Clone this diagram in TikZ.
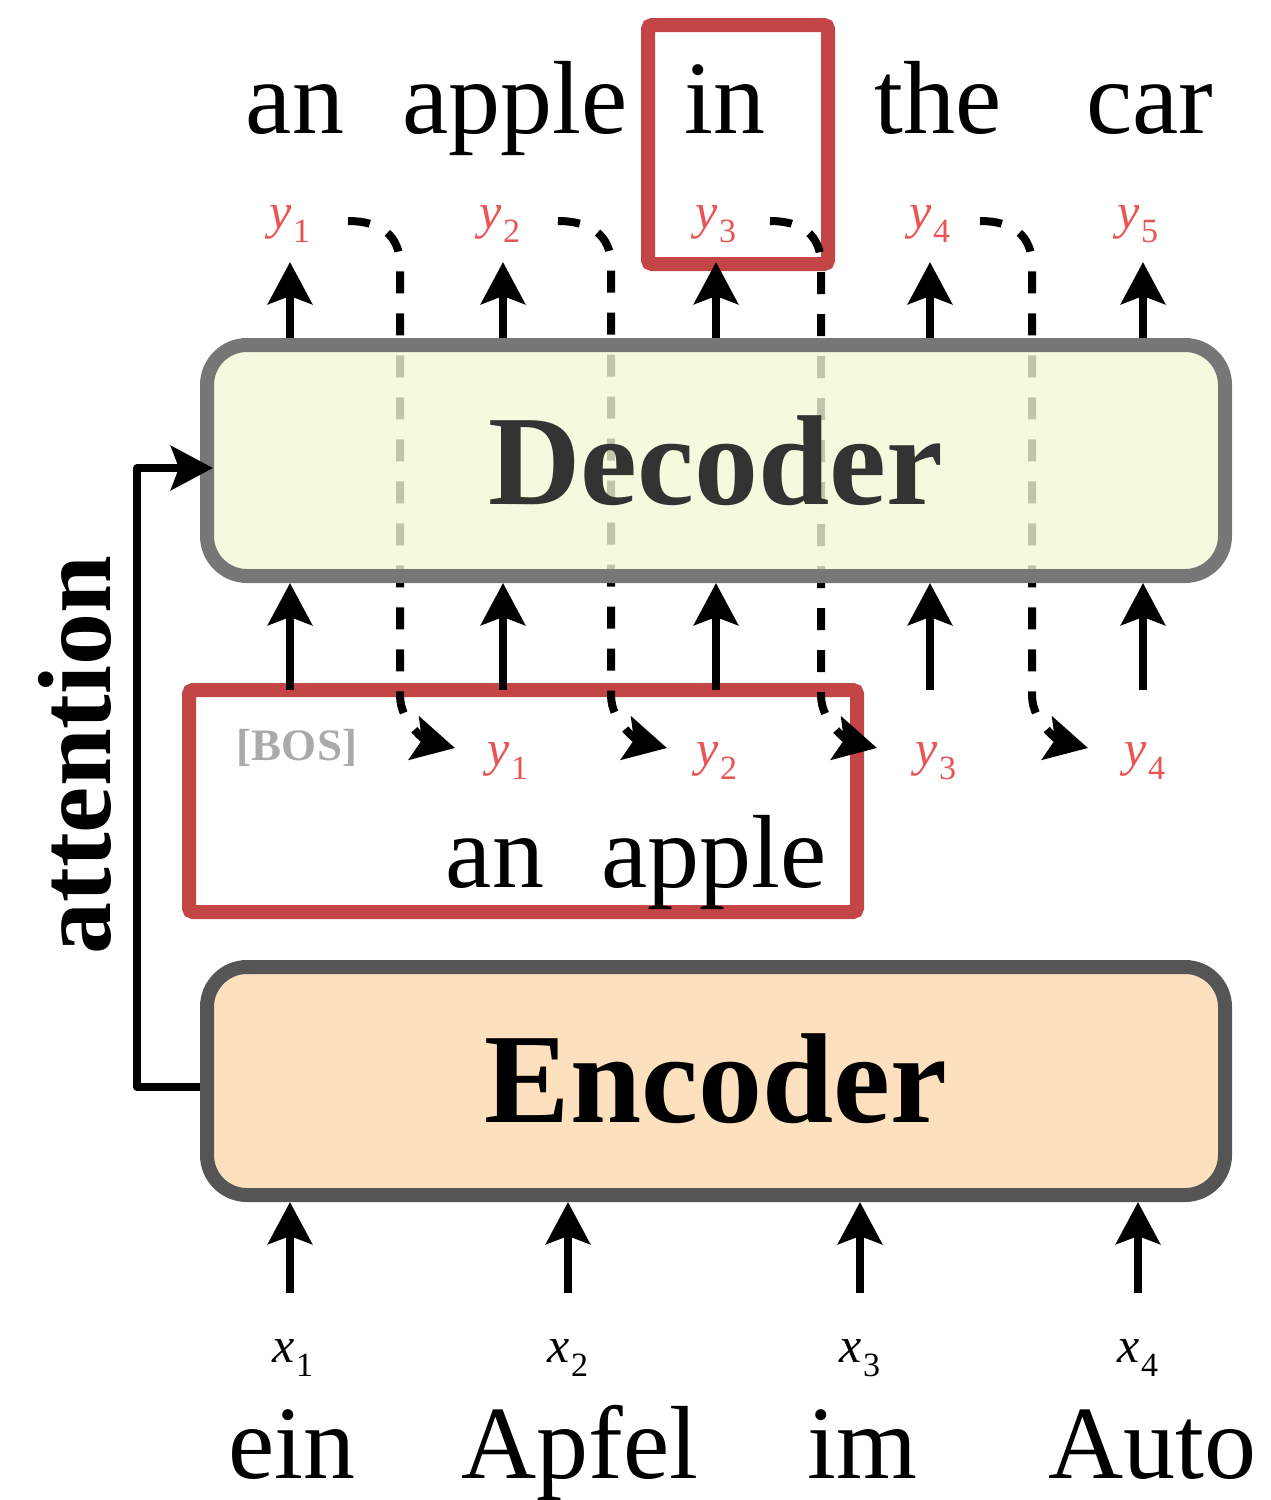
\documentclass[tikz,border=0pt]{standalone}
\usepackage{fontspec}
\setmainfont{Liberation Serif}
\usetikzlibrary{arrows.meta}

\definecolor{boxred}{HTML}{C44545}
\definecolor{labred}{HTML}{E95454}
\definecolor{decfill}{HTML}{F2F7D5}
\definecolor{decline}{HTML}{777777}
\definecolor{encfill}{HTML}{FDE0BE}
\definecolor{encline}{HTML}{555555}
\definecolor{bosgray}{HTML}{AAAAAA}
\definecolor{dectext}{HTML}{333333}

% italic symbol with an upright lowered index
\newcommand\idx[2]{\textit{#1}\kern1pt\raisebox{-14pt}{\fontsize{34}{34}\selectfont #2}}

\tikzset{
  tip/.tip={Stealth[length=42pt,width=44pt,inset=8pt]},
  arr/.style={line width=8pt, -tip},
  dasharr/.style={line width=8pt, dash pattern=on 22pt off 20pt, -tip},
  word/.style={anchor=base, inner sep=0pt, font=\fontsize{104}{110}\selectfont},
  lab/.style={anchor=base, inner sep=0pt, text=labred, font=\fontsize{50}{60}\selectfont},
  xlab/.style={anchor=base, inner sep=0pt, font=\fontsize{50}{60}\selectfont},
  bigbox/.style={draw, rounded corners=40pt, line width=14pt, minimum width=1018pt,
    outer sep=0pt, inner sep=0pt, font=\bfseries\fontsize{128}{130}\selectfont},
  redframe/.style={draw=boxred, line width=14pt, rounded corners=4pt, outer sep=0pt, inner sep=0pt}
}

\begin{document}
\begin{tikzpicture}[x=1pt,y=-1pt]
\useasboundingbox (0,0) rectangle (1270,1500);

% column positions
\foreach \n/\x in {1/290,2/503,3/716,4/930,5/1143} \coordinate (c\n) at (\x,0);
\foreach \n/\x in {1/290,2/568,3/860,4/1138} \coordinate (b\n) at (\x,1293);

% highlight frames
\node[redframe, fill=white, minimum width=668pt, minimum height=222pt] (ctx) at (523,801) {};
\node[redframe, minimum width=180pt, minimum height=239pt] (cur) at (738,144.5) {};

% outputs fed back as the next inputs
\foreach \n/\s/\v/\e in {1/348/400/455, 2/558/611/667, 3/770/821/877, 4/980/1032/1088}{
  \coordinate (fs\n) at (\s,221);
  \coordinate (fe\n) at (\e,748);
  \draw[dasharr] (fs\n) .. controls +(32,0) and +(0,-30) .. (\v,265)
    -- (\v,695) .. controls +(0,30) and +(-25,-6) .. (fe\n);
}

% decoder and encoder
\node[bigbox, draw=decline, fill=decfill, fill opacity=0.8, text opacity=1, text=dectext,
  minimum height=231pt] (dec) at (716,460.5) {Decoder};
\node[bigbox, draw=encline, fill=encfill, minimum height=228pt] (enc) at (716,1081) {\raisebox{5pt}{Encoder}};

% attention link
\draw[arr, line join=round] ([xshift=-7pt,yshift=-6pt]enc.west) -- ++(-63,0) |- ([xshift=6pt,yshift=-7.5pt]dec.west);

% arrows
\foreach \n in {1,...,5}{
  \draw[arr, shorten <=7pt] (dec.north -| c\n) -- ++(0,-83);
  \draw[arr, shorten >=7pt] (ctx.north -| c\n) -- (dec.south -| c\n);
}
\foreach \n in {1,...,4}
  \draw[arr, shorten >=7pt] (b\n) -- (enc.south -| b\n);

% output words
\node[word] (w1) at (295,133) {an};
\node[word] (w2) at (515,133) {apple};
\node[word] (w3) at (725,133) {in};
\node[word] (w4) at (938,133) {the};
\node[word] (w5) at (1150,133) {car};

% output symbols
\foreach \n/\x in {1/290,2/500,3/716,4/930,5/1138}
  \node[lab] (yt\n) at (\x,228) {\idx{y}{\n}};

% decoder inputs
\node[anchor=base, inner sep=0pt, text=bosgray, font=\bfseries\fontsize{45}{50}\selectfont] (bos) at (297,760) {[BOS]};
\foreach \n/\x in {1/508,2/717,3/936,4/1145}
  \node[lab] (yb\n) at (\x,765) {\idx{y}{\n}};
\node[word] (p1) at (495,887) {an};
\node[word] (p2) at (714,887) {apple};

% source symbols and words
\foreach \n/\x in {1/293,2/568,3/860,4/1138}
  \node[xlab] (xl\n) at (\x,1362) {\idx{x}{\n}};
\node[word] (s1) at (292,1478) {ein};
\node[word] (s2) at (580,1478) {Apfel};
\node[word] (s3) at (862,1478) {im};
\node[word] (s4) at (1152,1478) {Auto};

% attention label
\node[rotate=90, anchor=base, inner sep=0pt, font=\bfseries\fontsize{104}{110}\selectfont] (att) at (110,755) {attention};
\end{tikzpicture}
\end{document}
